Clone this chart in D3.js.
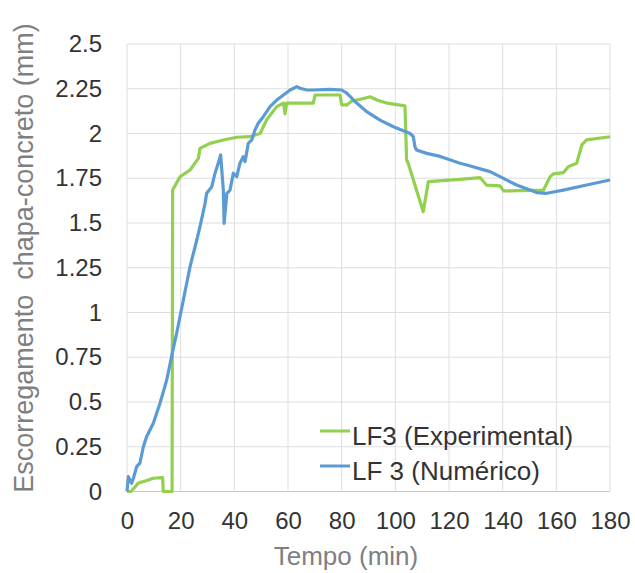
<!DOCTYPE html>
<html>
<head>
<meta charset="utf-8">
<script src="https://cdn.jsdelivr.net/npm/d3@7"></script>
<style>
  body { margin: 0; background: #fff; }
  text { font-family: "Liberation Sans", Arial, sans-serif; }
</style>
</head>
<body>
<svg id="chart"></svg>
<script>
// LF3 experimental (green)
const expTime = [0, 1.5, 4.2, 6, 9.8, 12.9, 13.3, 13.5, 16.8, 17.0, 19.8, 23.5, 26.6, 27.2, 30.9, 35.9, 40.9, 45.8, 49.6, 52, 55.8, 58.3, 58.9, 59.5, 69.4, 70.1, 79.4, 80, 81.9, 83.7, 89.3, 90.6, 93.1, 96.8, 103.6, 104.2, 104.8, 110.4, 112.3, 124.1, 131.6, 134, 139, 140.3, 155.2, 157.7, 158.9, 162.6, 164.5, 167.6, 169.5, 171.3, 180];
const expSlip = [0, 0, 0.047, 0.055, 0.074, 0.077, 0.077, 0, 0, 1.684, 1.759, 1.796, 1.861, 1.917, 1.945, 1.964, 1.979, 1.982, 2.0, 2.075, 2.15, 2.17, 2.11, 2.17, 2.17, 2.215, 2.215, 2.16, 2.16, 2.18, 2.2, 2.205, 2.187, 2.17, 2.154, 1.852, 1.834, 1.563, 1.731, 1.744, 1.753, 1.712, 1.707, 1.679, 1.684, 1.759, 1.774, 1.781, 1.815, 1.834, 1.936, 1.964, 1.982];

// LF 3 numerical (blue)
const numTime = [0, 0.5, 1.7, 2.4, 3.6, 4.8, 6.1, 7.3, 9.8, 12.3, 14.8, 16.6, 18.5, 21, 23.5, 26, 27.2, 29.1, 29.7, 31.6, 32.8, 34, 34.9, 35.9, 36.2, 37.2, 38.4, 39.6, 40.9, 42.1, 43.3, 44, 45.2, 46.5, 47.7, 48.9, 50.8, 53.3, 55.8, 58.3, 60.8, 63.3, 64.5, 67, 69.4, 75.7, 80, 81.9, 85.6, 89.3, 94.3, 99.3, 105.5, 106.7, 107.3, 107.9, 111.7, 116.7, 124.1, 126.6, 135.3, 139, 145.2, 152.7, 156.4, 162.6, 171.3, 180];
const numSlip = [0, 0.083, 0.046, 0.074, 0.139, 0.158, 0.25, 0.306, 0.381, 0.493, 0.623, 0.753, 0.884, 1.07, 1.256, 1.405, 1.48, 1.61, 1.666, 1.703, 1.778, 1.834, 1.88, 1.684, 1.498, 1.666, 1.684, 1.778, 1.759, 1.834, 1.87, 1.843, 1.945, 1.964, 2.02, 2.057, 2.094, 2.15, 2.187, 2.215, 2.243, 2.262, 2.253, 2.243, 2.243, 2.247, 2.243, 2.225, 2.17, 2.122, 2.075, 2.038, 2.0, 1.982, 1.926, 1.908, 1.889, 1.872, 1.834, 1.824, 1.787, 1.759, 1.712, 1.67, 1.666, 1.684, 1.712, 1.74];

const xTicks = [0, 20, 40, 60, 80, 100, 120, 140, 160, 180];
const yTicks = [0, 0.25, 0.5, 0.75, 1, 1.25, 1.5, 1.75, 2, 2.25, 2.5];
const seriesNames = ["LF3 (Experimental)", "LF 3 (Numérico)"];
const seriesColors = ["#92d050", "#5b9bd5"];

const margin = {top: 44, right: 25, bottom: 81.5, left: 127},
  width = 635 - margin.left - margin.right,
  height = 573 - margin.top - margin.bottom;

const svg = d3.select("#chart")
  .attr("width", 635)
  .attr("height", 573)
  .append("g")
  .attr("transform", `translate(${margin.left}, ${margin.top})`);

const x = d3.scaleLinear().domain([0, 180]).range([0, width]);
const y = d3.scaleLinear().domain([0, 2.5]).range([height, 0]);

// grid
svg.append("g")
  .selectAll("line.h")
  .data(yTicks)
  .join("line")
  .attr("x1", 0).attr("x2", width)
  .attr("y1", d => y(d)).attr("y2", d => y(d))
  .attr("stroke", d => d === 0 ? "#c8c8c8" : "#dedede")
  .attr("stroke-width", 1);
svg.append("g")
  .selectAll("line.v")
  .data(xTicks)
  .join("line")
  .attr("x1", d => x(d)).attr("x2", d => x(d))
  .attr("y1", 0).attr("y2", height)
  .attr("stroke", "#dedede")
  .attr("stroke-width", 1);

// axes (labels only)
const xAxis = svg.append("g")
  .attr("transform", `translate(0, ${height})`)
  .call(d3.axisBottom(x).tickValues(xTicks).tickSize(0).tickPadding(20).tickFormat(d3.format("d")));
xAxis.select(".domain").remove();
xAxis.selectAll("text").style("font-size", "24px").attr("fill", "#333");

const yAxis = svg.append("g")
  .call(d3.axisLeft(y).tickValues(yTicks).tickSize(0).tickPadding(25).tickFormat(d => String(d)));
yAxis.select(".domain").remove();
yAxis.selectAll("text").style("font-size", "24px").attr("fill", "#333");

// lines
const line = d3.line().x(d => x(d[0])).y(d => y(d[1]));
const expData = expTime.map((t, i) => [t, expSlip[i]]);
const numData = numTime.map((t, i) => [t, numSlip[i]]);

[expData, numData].forEach((data, i) => {
  svg.append("path")
    .datum(data)
    .attr("fill", "none")
    .attr("stroke", seriesColors[i])
    .attr("stroke-width", 3.2)
    .attr("stroke-linejoin", "round")
    .attr("d", line);
});

// legend
const legend = svg.append("g").attr("transform", `translate(${320 - margin.left}, ${431 - margin.top})`);
seriesNames.forEach((name, i) => {
  const g = legend.append("g").attr("transform", `translate(0, ${i * 35})`);
  g.append("line")
    .attr("x1", 0).attr("x2", 30)
    .attr("stroke", seriesColors[i])
    .attr("stroke-width", 3);
  g.append("text")
    .attr("x", 32).attr("y", 6)
    .attr("dy", "0.32em")
    .style("font-size", "26px")
    .attr("fill", "#333")
    .text(name);
});

// axis titles
svg.append("text")
  .attr("x", 346 - margin.left)
  .attr("y", 565 - margin.top)
  .attr("text-anchor", "middle")
  .style("font-size", "26px")
  .attr("fill", "#7f7f7f")
  .text("Tempo (min)");

svg.append("text")
  .attr("transform", `translate(${33 - margin.left}, ${258 - margin.top}) rotate(-90)`)
  .attr("text-anchor", "middle")
  .style("font-size", "27px")
  .attr("fill", "#7f7f7f")
  .style("white-space", "pre")
  .text("Escorregamento  chapa-concreto (mm)");
</script>
</body>
</html>
